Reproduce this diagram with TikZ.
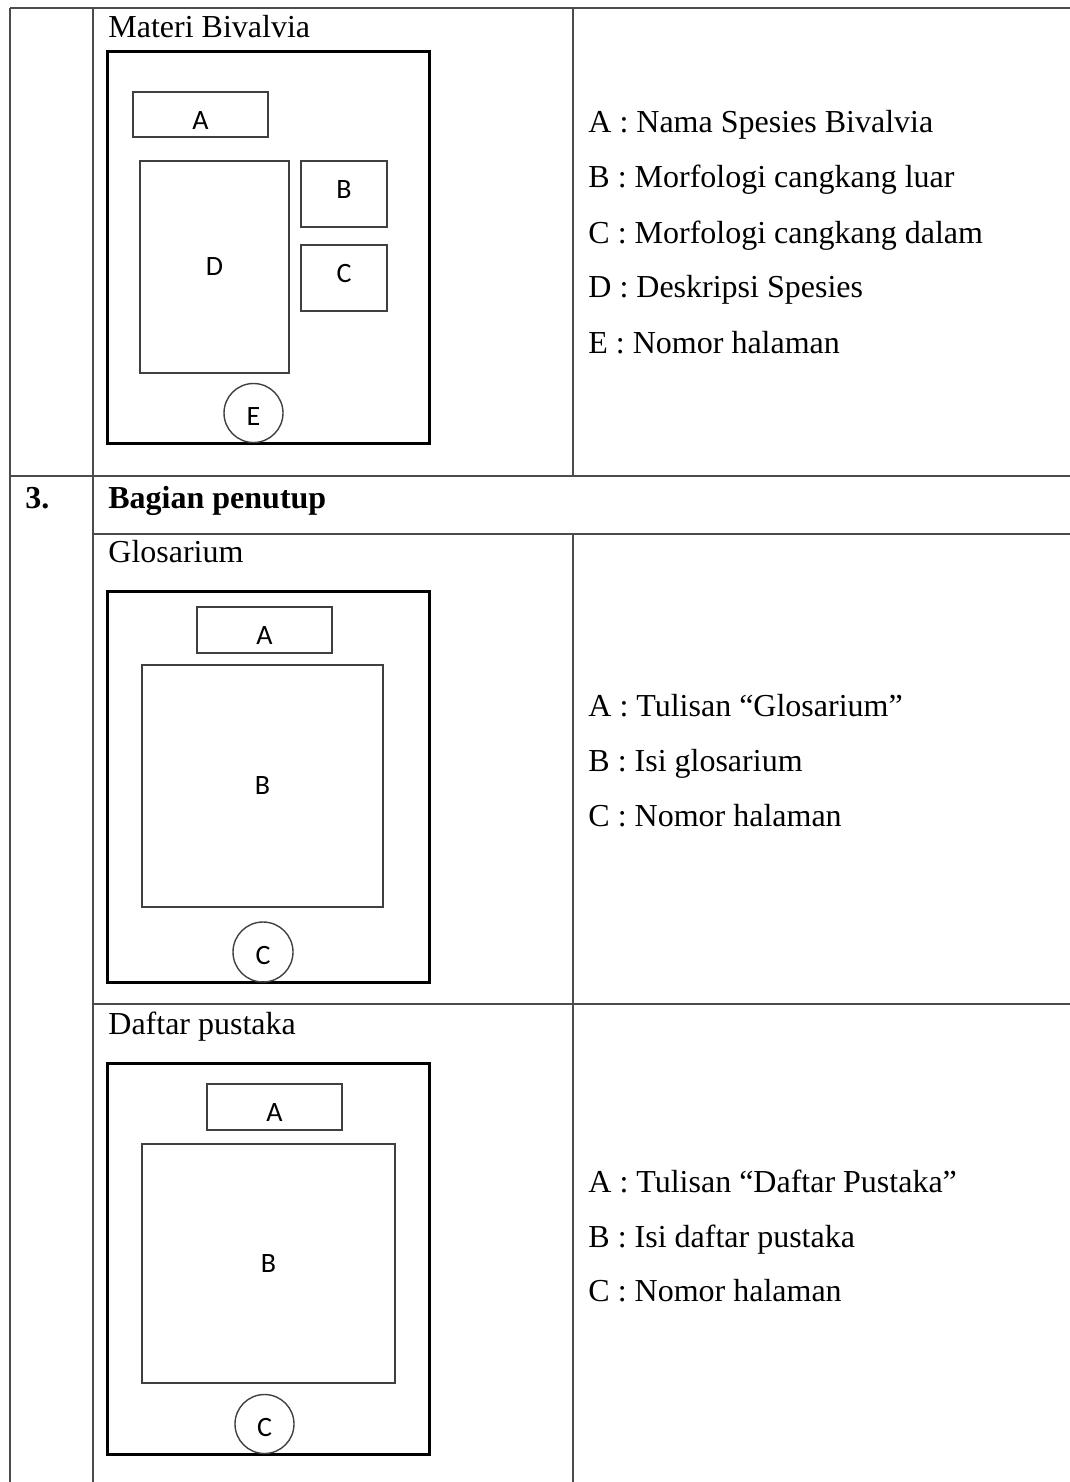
\documentclass[tikz,border=0pt]{standalone}
\usepackage{fontspec}
\setmainfont{Liberation Serif}
\newfontfamily\boxfont{Carlito}
\usepackage{tikz}

\begin{document}
\begin{tikzpicture}[x=0.5pt,y=-0.5pt,
    tableLine/.style={draw=black!70,line width=0.9pt},
    pageFrame/.style={draw,line width=1.5pt,minimum width=161pt,minimum height=195.5pt,inner sep=0pt},
    partBox/.style={draw=black!75,line width=0.7pt,inner sep=0pt,font=\boxfont\fontsize{14}{16}\selectfont},
    lowLabel/.style={text height=14.8pt,text depth=0pt},
    highLabel/.style={text height=8.8pt,text depth=4pt},
    pageNum/.style={partBox,circle,minimum size=29.5pt,text height=12.8pt,text depth=0pt},
    cellText/.style={anchor=base west,inner sep=0pt,font=\fontsize{16}{19}\selectfont}]
			\useasboundingbox (0,0) rectangle (1070,1482);
			% table grid
			\draw[tableLine] (10,8) -- (1070,8);
			\draw[tableLine] (10,476) -- (1070,476);
			\draw[tableLine] (93,534) -- (1070,534);
			\draw[tableLine] (93,1004) -- (1070,1004);
			\draw[tableLine] (10,8) -- (10,1482);
			\draw[tableLine] (93,8) -- (93,1482);
			\draw[tableLine] (573,8) -- (573,476);
			\draw[tableLine] (573,534) -- (573,1482);

			% Materi Bivalvia
			\node[cellText] (MateriTitle) at (108,38) {Materi Bivalvia};
			\node[pageFrame] (MateriFrame) at (268,247.5) {};
			\node[partBox,lowLabel,minimum width=67.5pt,minimum height=22.5pt] (MateriA) at (200.5,114.5) {A};
			\node[partBox,minimum width=74.5pt,minimum height=106pt] (MateriD) at (214.5,267) {D};
			\node[partBox,highLabel,minimum width=43pt,minimum height=33pt] (MateriB) at (344,194) {B};
			\node[partBox,highLabel,minimum width=43pt,minimum height=33pt] (MateriC) at (344,278) {C};
			\node[pageNum] (MateriE) at (253.5,413) {E};
			\node[cellText] (MateriKetA) at (588,133) {A : Nama Spesies Bivalvia};
			\node[cellText] (MateriKetB) at (588,188) {B : Morfologi cangkang luar};
			\node[cellText] (MateriKetC) at (588,243) {C : Morfologi cangkang dalam};
			\node[cellText] (MateriKetD) at (588,298) {D : Deskripsi Spesies};
			\node[cellText] (MateriKetE) at (588,353) {E : Nomor halaman};

			% Bagian penutup
			\node[cellText,font=\bfseries\fontsize{16}{19}\selectfont] (PenutupNo) at (25,508) {3.};
			\node[cellText,font=\bfseries\fontsize{16}{19}\selectfont] (PenutupTitle) at (108,508) {Bagian penutup};

			% Glosarium
			\node[cellText] (GlosTitle) at (108,562) {Glosarium};
			\node[pageFrame] (GlosFrame) at (268,786.5) {};
			\node[partBox,lowLabel,minimum width=67.5pt,minimum height=23pt] (GlosA) at (264.5,630) {A};
			\node[partBox,minimum width=120.5pt,minimum height=121pt] (GlosB) at (262.5,786) {B};
			\node[pageNum,minimum size=30pt] (GlosC) at (263,952) {C};
			\node[cellText] (GlosKetA) at (588,716) {A : Tulisan ``Glosarium''};
			\node[cellText] (GlosKetB) at (588,771) {B : Isi glosarium};
			\node[cellText] (GlosKetC) at (588,826) {C : Nomor halaman};

			% Daftar pustaka
			\node[cellText] (DaftarTitle) at (108,1034) {Daftar pustaka};
			\node[pageFrame] (DaftarFrame) at (268,1258.5) {};
			\node[partBox,lowLabel,minimum width=67.5pt,minimum height=23pt] (DaftarA) at (274.5,1107) {A};
			\node[partBox,minimum width=126.5pt,minimum height=119.5pt] (DaftarB) at (268.5,1263.5) {B};
			\node[pageNum] (DaftarC) at (264.5,1424) {C};
			\node[cellText] (DaftarKetA) at (588,1192) {A : Tulisan ``Daftar Pustaka''};
			\node[cellText] (DaftarKetB) at (588,1247) {B : Isi daftar pustaka};
			\node[cellText] (DaftarKetC) at (588,1301) {C : Nomor halaman};
			
			\end{tikzpicture}
\end{document}
